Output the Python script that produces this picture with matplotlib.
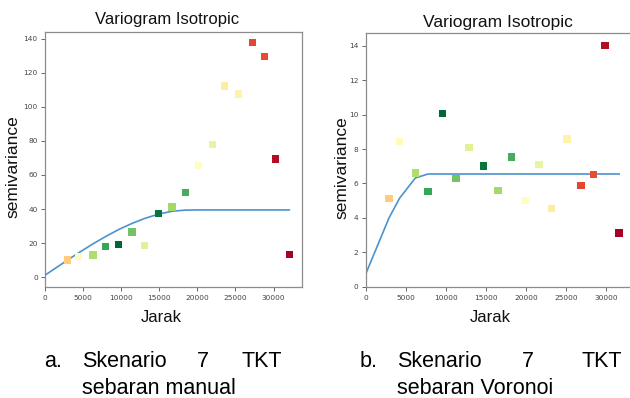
import numpy as np
from matplotlib import pyplot as plt
from matplotlib import cm

# lag distance of each bin (Jarak)
lag_manual = [2970, 4370, 6300, 7920, 9670, 11420, 13080, 14920, 16670,
              18420, 20170, 21960, 23580, 25420, 27250, 28830, 30230, 32070]
lag_voronoi = [2910, 4240, 6200, 7780, 9570, 11280, 12900, 14690, 16520,
               18190, 19890, 21640, 23220, 25140, 26880, 28460, 29880, 31630]

# experimental semivariance
semi_manual = [10.2, 12.1, 13.1, 18.0, 19.2, 26.6, 18.8, 37.3, 41.3,
               49.7, 65.7, 78.0, 112.2, 107.5, 137.7, 129.4, 69.4, 13.3]
semi_voronoi = [5.11, 8.42, 6.6, 5.54, 10.05, 6.27, 8.07, 7.01, 5.6,
                7.53, 5.02, 7.09, 4.53, 8.58, 5.89, 6.53, 14.02, 3.12]

# fitted model, sampled at 0 and at each lag
model_manual = [1.2, 10.1, 14.2, 19.6, 23.8, 28.0, 31.6, 34.5, 37.1, 38.7,
                39.4, 39.5, 39.5, 39.5, 39.5, 39.5, 39.5, 39.5, 39.5]
model_voronoi = [0.74, 4.0, 5.15, 6.32, 6.55, 6.55, 6.55, 6.55, 6.55, 6.55,
                 6.55, 6.55, 6.55, 6.55, 6.55, 6.55, 6.55, 6.55, 6.55]

# colour scale value of each bin (RdYlGn)
bin_value = [0.36, 0.49, 0.68, 0.86, 1.0, 0.78, 0.58, 0.97, 0.70,
             0.84, 0.50, 0.56, 0.44, 0.46, 0.14, 0.15, 0.03, 0.0]

title = "Variogram Isotropic"
xlabel = "Jarak"
ylabel = "semivariance"
captions = [["a.", "Skenario", "7", "TKT", "sebaran manual"],
            ["b.", "Skenario", "7", "TKT", "sebaran Voronoi"]]

W, H = 630, 398
fig = plt.figure(figsize=(W / 100, H / 100), dpi=100)


def px(x, y):
    return x / W, 1 - y / H


def plot_panel(rect, lags, semi, model, xmax, ylim):
    ax = fig.add_axes(rect)
    colours = cm.RdYlGn(np.array(bin_value))
    ax.plot([0] + lags, model, color='#4a93d0', linewidth=1.2, zorder=1)
    ax.scatter(lags, semi, c=colours, marker='s', s=28, linewidths=0, zorder=2)
    ax.set_xlim(0, xmax)
    ax.set_ylim(ylim)
    for s in ax.spines.values():
        s.set_color('#8c8c8c')
        s.set_linewidth(0.9)
    ax.tick_params(labelsize=5.3, labelcolor='#444444', color='#666666',
                   length=3, width=0.7, pad=2.2)
    return ax


plot_panel([45 / W, 1 - 287.3 / H, 256.7 / W, 255.3 / H],
           lag_manual, semi_manual, model_manual, 33690, (-5.9, 143.9))
plot_panel([365.7 / W, 1 - 287.3 / H, 269.9 / W, 254.0 / H],
           lag_voronoi, semi_voronoi, model_voronoi, 33690, (-0.03, 14.72))

lab = dict(family='Liberation Sans', color='#111111')
fig.text(*px(167, 24), title, ha='center', va='baseline', fontsize=12, **lab)
fig.text(*px(498, 27), title, ha='center', va='baseline', fontsize=12.5, **lab)
fig.text(*px(13, 167), ylabel, ha='center', va='center', rotation=90, fontsize=12.5, **lab)
fig.text(*px(342, 168), ylabel, ha='center', va='center', rotation=90, fontsize=12.5, **lab)
fig.text(*px(161, 317), xlabel, ha='center', va='center', fontsize=12, **lab)
fig.text(*px(490, 317), xlabel, ha='center', va='center', fontsize=12, **lab)

# captions under the panels, words placed like justified text
cap = dict(family='Liberation Sans', fontsize=15.5, color='black', va='baseline')
word_x = [[44, 81.7, 197, 241.7], [360, 396.7, 522, 581.7]]
for words, xs in zip(captions, word_x):
    for w, x in zip(words[:4], xs):
        fig.text(*px(x, 367.3), w, **cap)
    fig.text(*px(xs[1], 393.5), words[4], **cap)

fig.savefig('out.png', dpi=100)
